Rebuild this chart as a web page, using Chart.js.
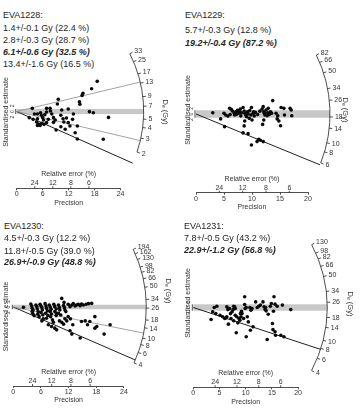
<!DOCTYPE html>
<html>
<head>
<meta charset="utf-8">
<script src="https://cdn.jsdelivr.net/npm/chart.js@4.4.1/dist/chart.umd.min.js"></script>
<style>
html, body { margin: 0; padding: 0; background: #fff; }
body { position: relative; width: 363px; height: 408px; overflow: hidden; font-family: "Liberation Sans", Arial, sans-serif; }
canvas { position: absolute; }
.t { position: absolute; font-size: 9px; line-height: 10px; color: #262626; white-space: nowrap; }
.b { font-weight: bold; font-style: italic; }
</style>
</head>
<body>
<script>
// EVA1228
const p1Lines = ['EVA1228:', '1.4+/-0.1 Gy (22.4 %)', '2.8+/-0.3 Gy (28.7 %)', '6.1+/-0.6 Gy (32.5 %)', '13.4+/-1.6 Gy (16.5 %)'];
const p1Central = 6.1;
const p1Components = [1.4, 2.8, 13.4];
const p1ArcTicks = [2, 3, 4, 5, 7, 9, 13, 17, 25, 33];
const p1PrecTicks = [0, 6, 12, 18, 24];
const p1Precision = [18.6,17.3,15.3,15.1,14.5,14.6,9.6,9.4,10.4,11.9,6.9,7.7,7.8,6.9,6.5,3.6,4.1,4.8,5.5,5.7,2.9,4.8,6.0,8.1,8.5,8.9,10.2,10.7,10.9,11.5,12.9,13.1,16.8,17.7,21.2,4.6,5.0,5.4,5.8,6.3,6.9,4.8,7.3,9.1,10.2,11.2,12.3,13.5,14.0,14.0,20.0,8.5,11.9,3.8,6.2];
const p1Estimate = [23.0,17.4,13.9,12.3,7.5,5.5,9.3,5.7,1.1,1.9,2.4,2.4,0.4,-0.4,-2.4,2.4,-1.9,-1.9,-0.9,-2.9,-4.7,-5.5,-4.7,-1.9,-4.7,-6.5,-2.9,-5.5,-8.0,-5.0,-6.0,-1.9,-0.1,-0.9,-4.5,-8.0,-9.5,-10.6,-9.0,-9.8,-8.5,-10.6,-6.0,-14.1,-11.6,-13.6,-11.1,-16.2,-11.1,-21.0,-21.2,-8.3,-8.5,-6.0,-6.5];

// EVA1229
const p2Lines = ['EVA1229:', '5.7+/-0.3 Gy (12.8 %)', '19.2+/-0.4 Gy (87.2 %)'];
const p2Central = 19.2;
const p2Components = [5.7];
const p2ArcTicks = [6, 8, 10, 14, 18, 26, 34, 50, 66, 82];
const p2PrecTicks = [0, 5, 10, 15, 20];
const p2Precision = [3.0,4.4,5.1,5.0,5.3,5.7,6.0,6.3,6.5,6.8,6.9,7.1,7.4,7.6,7.8,8.1,8.4,8.6,8.7,8.9,9.0,9.2,9.3,9.5,9.6,9.8,9.9,10.0,10.2,10.3,8.6,8.7,8.4,9.3,9.9,10.9,11.2,11.5,12.0,11.8,12.0,12.1,12.2,12.3,12.5,12.7,12.8,12.9,13.1,13.3,13.5,13.7,11.9,12.1,14.3,14.5,14.6,14.8,15.2,15.7,15.1,15.8,16.8,17.0,17.1,7.2,8.0,10.6,11.0,11.4,6.1,10.4,7.9];
const p2Estimate = [0.7,-2.6,-6.7,0.4,-0.5,-1.1,3.0,2.5,1.6,0.5,-0.5,1.2,1.9,0.4,1.2,0.7,3.4,1.6,0.4,-0.5,-1.4,1.2,0.0,-2.3,1.8,-0.5,3.4,-3.2,0.4,1.2,-6.3,-3.7,-10.0,-10.4,-16.4,-14.6,-13.4,-13.9,-14.6,2.6,3.9,1.2,0.4,-0.5,2.1,-0.9,0.7,3.0,-0.2,1.2,0.4,7.1,-5.5,-3.2,0.4,-2.6,-0.9,-3.7,3.4,3.0,-6.2,-0.5,3.0,2.1,-0.9,-0.2,-1.0,0.9,-0.3,1.5,-0.3,-1.0,2.6];

// EVA1230
const p3Lines = ['EVA1230:', '4.5+/-0.3 Gy (12.2 %)', '11.8+/-0.5 Gy (39.0 %)', '26.9+/-0.9 Gy (48.8 %)'];
const p3Central = 26.9;
const p3Components = [4.5, 11.8];
const p3ArcTicks = [4, 6, 8, 10, 14, 18, 26, 34, 50, 66, 82, 98, 130, 162, 194];
const p3PrecTicks = [0, 6, 12, 18, 24];
const p3Precision = [2.2,3.8,4.0,4.1,4.3,4.1,4.2,4.5,4.9,5.1,5.2,5.4,5.3,5.6,5.8,6.0,6.2,6.3,6.0,6.4,6.5,6.2,6.9,7.1,7.2,7.4,7.0,7.5,7.2,7.8,8.0,8.2,8.0,8.3,8.1,8.5,8.7,8.8,9.0,9.3,9.0,9.4,9.3,9.8,10.0,10.1,9.8,10.3,10.5,10.9,11.1,11.2,11.4,11.0,11.9,12.3,12.7,13.0,13.4,13.7,14.1,14.5,14.8,15.2,15.8,16.3,17.0,7.6,8.3,9.0,9.4,10.0,10.5,10.9,11.6,11.9,12.4,12.9,12.3,12.7,14.5,14.8,15.6,16.1,16.6,17.7,18.1,17.7,21.0,19.7,11.2];
const p3Estimate = [-0.3,2.7,0.9,-1.2,-2.7,-4.1,-5.6,-7.7,1.8,0.3,-1.8,-4.1,-6.5,-8.6,2.4,0.9,-0.6,-2.7,-5.0,-7.1,-10.6,-12.4,3.0,0.9,-1.2,-3.5,-5.6,-7.7,-10.0,1.8,0.0,-2.1,-4.1,-6.2,-8.6,-11.5,-13.6,2.4,0.3,-1.8,-4.1,-5.6,-7.7,1.8,-0.6,-2.7,-5.6,-7.1,7.7,1.2,-0.6,-2.7,-4.1,4.1,2.4,0.3,1.8,3.0,0.9,1.8,2.4,1.2,2.7,1.8,2.4,3.0,3.2,-15.9,-17.4,-18.9,-20.4,-12.4,-13.6,-15.3,-12.4,-8.6,-10.6,-15.9,-21.2,-24.2,-27.7,-13.0,-12.4,-15.9,-13.0,-8.6,-17.4,-18.9,-15.9,-24.2,-10.6];

// EVA1231
const p4Lines = ['EVA1231:', '7.8+/-0.5 Gy (43.2 %)', '22.9+/-1.2 Gy (56.8 %)'];
const p4Central = 22.9;
const p4Components = [7.8];
const p4ArcTicks = [4, 6, 8, 10, 14, 18, 26, 34, 50, 66, 82, 98, 130];
const p4PrecTicks = [0, 5, 10, 15, 20];
const p4Precision = [3.4,3.7,4.0,4.5,4.3,5.1,5.6,6.0,6.2,6.4,6.4,6.6,6.9,6.7,7.1,7.4,7.6,7.2,7.7,7.9,8.0,7.7,8.0,8.3,8.2,8.5,8.7,8.9,9.0,9.1,9.2,9.3,9.6,9.8,9.8,9.9,10.1,10.3,10.5,10.1,10.8,11.0,11.2,11.4,11.9,12.2,12.5,12.8,13.3,13.5,13.7,13.8,13.9,14.3,14.1,14.7,14.9,15.3,15.4,15.1,15.2,15.6,15.7,16.0,15.6,16.7,17.3,17.0,18.6,10.9];
const p4Estimate = [-7.5,-2.7,0.0,0.8,-3.8,-4.8,-5.8,-6.9,-6.5,-5.8,0.4,-1.3,-0.6,-10.4,-3.8,-2.7,-1.3,-6.9,-8.3,0.4,-0.6,0.8,-4.8,-5.8,-15.8,-9.6,-6.9,-7.9,-3.8,-5.8,-2.3,-3.8,-6.9,6.7,1.9,-0.6,0.0,-5.8,-9.0,-18.3,0.0,-1.7,-0.6,-12.1,3.5,0.0,0.8,1.5,3.5,0.4,-1.3,0.0,-2.1,-4.2,-20.0,0.8,2.5,-2.3,6.7,-10.0,-13.8,-15.2,-17.3,0.8,2.1,-17.3,-18.3,1.5,-1.3,-14.2];

const relErrTicks = [24, 12, 8, 6];

// page layout of each panel (px)
const panels = [
  { lines: p1Lines, bold: 3, central: p1Central, comps: p1Components, arc: p1ArcTicks, precTicks: p1PrecTicks, xs: p1Precision, ys: p1Estimate,
    left: 0, top: 0, w: 182, h: 207, ox: 16.7, oy: 111.5, axisY: 188.3, chartTop: 35.7, xmax: 24, kx: 4.33, ky: 1.31, radius: 127,
    headX: 3, headY: [15, 27.7, 40, 52.3, 64.3], deX: 165, deY: 112 },
  { lines: p2Lines, bold: 2, central: p2Central, comps: p2Components, arc: p2ArcTicks, precTicks: p2PrecTicks, xs: p2Precision, ys: p2Estimate,
    left: 182, top: 0, w: 181, h: 211, ox: 196, oy: 114, axisY: 192.7, chartTop: 27.3, xmax: 20, kx: 5.6, ky: 1.89, radius: 134,
    headX: 185, headY: [15, 29.5, 42.5], deX: 345, deY: 110 },
  { lines: p3Lines, bold: 3, central: p3Central, comps: p3Components, arc: p3ArcTicks, precTicks: p3PrecTicks, xs: p3Precision, ys: p3Estimate,
    left: 0, top: 204, w: 182, h: 200, ox: 13.3, oy: 307, axisY: 386, chartTop: 247, xmax: 24, kx: 4.61, ky: 1.12, radius: 133,
    headX: 4, headY: [225.7, 238.3, 250.7, 262.3], deX: 168, deY: 291 },
  { lines: p4Lines, bold: 2, central: p4Central, comps: p4Components, arc: p4ArcTicks, precTicks: p4PrecTicks, xs: p4Precision, ys: p4Estimate,
    left: 182, top: 204, w: 181, h: 202, ox: 193.3, oy: 307.5, axisY: 387.3, chartTop: 218.7, xmax: 20, kx: 5.24, ky: 1.6, radius: 134,
    headX: 184, headY: [225.7, 238, 250], deX: 350, deY: 304 }
];

const FONT = '"Liberation Sans", Arial, sans-serif';
Chart.defaults.font.family = FONT;
Chart.defaults.color = '#333';

const radialPlugin = {
  id: 'radial',
  beforeDatasetsDraw(chart) {
    const o = chart.options.plugins.radial;
    const ctx = chart.ctx, xs = chart.scales.x, ys = chart.scales.y;
    const ox = xs.getPixelForValue(0), oy = ys.getPixelForValue(0);
    const kx = xs.getPixelForValue(1) - ox, ky = oy - ys.getPixelForValue(1);
    ctx.save();
    // +/-2 band around the central value
    const yt = ys.getPixelForValue(2), yb = ys.getPixelForValue(-2);
    ctx.fillStyle = '#c8c8c8';
    ctx.fillRect(ox, yt, o.radius, yb - yt);
    // component lines
    o.comps.forEach((d, i) => {
      const a = Math.atan2(Math.log(d / o.central) * ky, kx);
      ctx.beginPath();
      ctx.moveTo(ox, oy);
      ctx.lineTo(ox + o.radius * Math.cos(a), oy - o.radius * Math.sin(a));
      ctx.strokeStyle = i === 0 ? '#1e1e1e' : '#8c8c8c';
      ctx.lineWidth = i === 0 ? 1 : 0.8;
      ctx.stroke();
    });
    ctx.restore();
  },
  afterDraw(chart) {
    const o = chart.options.plugins.radial;
    const ctx = chart.ctx, xs = chart.scales.x, ys = chart.scales.y;
    const ox = xs.getPixelForValue(0), oy = ys.getPixelForValue(0);
    const kx = xs.getPixelForValue(1) - ox, ky = oy - ys.getPixelForValue(1);
    const R = o.radius;
    const ang = d => Math.atan2(Math.log(d / o.central) * ky, kx);
    ctx.save();
    ctx.strokeStyle = '#222';
    ctx.fillStyle = '#333';
    ctx.lineWidth = 0.8;
    // dose arc
    const lo = ang(o.arc[0]), hi = ang(o.arc[o.arc.length - 1]);
    ctx.beginPath();
    ctx.arc(ox, oy, R, -hi, -lo);
    ctx.stroke();
    ctx.font = '7px ' + FONT;
    ctx.textAlign = 'left';
    ctx.textBaseline = 'middle';
    o.arc.forEach(d => {
      const a = ang(d), c = Math.cos(a), s = Math.sin(a);
      ctx.beginPath();
      ctx.moveTo(ox + R * c, oy - R * s);
      ctx.lineTo(ox + (R + 3) * c, oy - (R + 3) * s);
      ctx.stroke();
      ctx.fillText(String(d), ox + (R + 5) * c, oy - (R + 5) * s);
    });
    // De (Gy) label
    ctx.save();
    ctx.translate(o.deX, o.deY);
    ctx.rotate(Math.PI / 2);
    ctx.font = '7.5px ' + FONT;
    const wD = ctx.measureText('D').width, wG = ctx.measureText(' (Gy)').width;
    ctx.font = '5px ' + FONT;
    const wE = ctx.measureText('e').width;
    const x0 = -(wD + wE + wG) / 2;
    ctx.textAlign = 'left';
    ctx.font = '7.5px ' + FONT;
    ctx.fillText('D', x0, 0);
    ctx.font = '5px ' + FONT;
    ctx.fillText('e', x0 + wD, 2);
    ctx.font = '7.5px ' + FONT;
    ctx.fillText(' (Gy)', x0 + wD + wE, 0);
    ctx.restore();
    // small -2..2 axis
    ctx.beginPath();
    ctx.moveTo(ox - 1, ys.getPixelForValue(2));
    ctx.lineTo(ox - 1, ys.getPixelForValue(-2));
    ctx.stroke();
    ctx.font = '5px ' + FONT;
    ctx.textAlign = 'center';
    [2, 0, -2].forEach(v => {
      const y = oy - v * 2.8;
      ctx.save();
      ctx.translate(ox - 4.5, y);
      ctx.rotate(-Math.PI / 2);
      ctx.fillText(String(Math.abs(v)), 0, 0);
      ctx.restore();
    });
    // relative error axis on the precision line
    const axisY = chart.chartArea.bottom;
    ctx.font = '7px ' + FONT;
    ctx.textAlign = 'center';
    ctx.textBaseline = 'bottom';
    relErrTicks.forEach(r => {
      const x = xs.getPixelForValue(100 / r);
      ctx.beginPath();
      ctx.moveTo(x, axisY);
      ctx.lineTo(x, axisY - 2);
      ctx.stroke();
      ctx.fillText(String(r), x, axisY - 1.5);
    });
    ctx.textBaseline = 'middle';
    ctx.fillText('Relative error (%)', (chart.chartArea.left + chart.chartArea.right) / 2, axisY - 14);
    ctx.restore();
  }
};

panels.forEach(p => {
  p.lines.forEach((txt, i) => {
    const d = document.createElement('div');
    d.className = 't' + (i === p.bold ? ' b' : '');
    d.textContent = txt;
    d.style.left = p.headX + 'px';
    d.style.top = (p.headY[i] - 5) + 'px';
    document.body.appendChild(d);
  });

  const cv = document.createElement('canvas');
  cv.width = p.w;
  cv.height = p.h;
  cv.style.left = p.left + 'px';
  cv.style.top = p.top + 'px';
  document.body.appendChild(cv);

  const ox = p.ox - p.left, oy = p.oy - p.top;
  const axisY = p.axisY - p.top, chartTop = p.chartTop - p.top;
  const right = ox + p.xmax * p.kx;
  const yMax = (oy - chartTop) / p.ky;
  const yMin = -(axisY - oy) / p.ky;
  const precTicks = p.precTicks;

  new Chart(cv, {
    type: 'scatter',
    data: {
      datasets: [{
        data: p.xs.map((x, i) => ({ x: x, y: p.ys[i] })),
        backgroundColor: '#0a0a0a',
        borderWidth: 0,
        pointRadius: 1.8
      }]
    },
    options: {
      responsive: false,
      animation: false,
      layout: { padding: { left: 0, top: chartTop, right: p.w - right, bottom: 0 } },
      plugins: {
        legend: { display: false },
        tooltip: { enabled: false },
        radial: { central: p.central, comps: p.comps, arc: p.arc, radius: p.radius, deX: p.deX - p.left, deY: p.deY - p.top }
      },
      scales: {
        x: {
          type: 'linear',
          min: 0,
          max: p.xmax,
          afterBuildTicks: s => { s.ticks = precTicks.map(v => ({ value: v })); },
          afterFit: s => { s.height = p.h - axisY; },
          grid: { drawOnChartArea: false, drawTicks: true, tickLength: 2, color: '#222', lineWidth: 0.8 },
          border: { display: true, color: '#222', width: 0.8 },
          ticks: { font: { size: 7 }, color: '#333', padding: 0, maxRotation: 0, autoSkip: false },
          title: { display: true, text: 'Precision', font: { size: 7 }, color: '#333', padding: { top: 0, bottom: 0 } }
        },
        y: {
          type: 'linear',
          min: yMin,
          max: yMax,
          afterFit: s => { s.width = ox; },
          grid: { display: false },
          border: { display: false },
          ticks: { display: false },
          title: { display: true, text: 'Standardised estimate', font: { size: 7 }, color: '#333', padding: { top: 2, bottom: 0 } }
        }
      }
    },
    plugins: [radialPlugin]
  });
});
</script>
</body>
</html>
